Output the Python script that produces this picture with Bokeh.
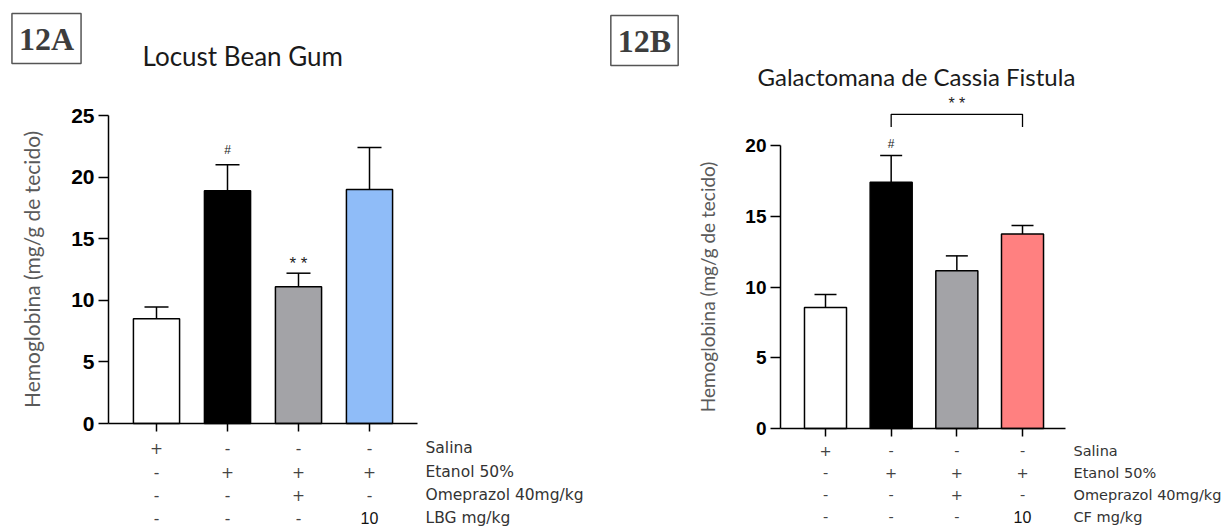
from bokeh.plotting import figure
from bokeh.models import Range1d, FixedTicker, Whisker, TeeHead, Label, ColumnDataSource
from bokeh.layouts import row
from bokeh.embed import file_html
from bokeh.resources import INLINE
from bokeh.core.properties import value

# ---------------- data ----------------
groups = [1, 2, 3, 4]

hb_a = [8.5, 18.9, 11.1, 19.0]
sem_a = [0.95, 2.1, 1.1, 3.4]
colors_a = ["#ffffff", "#000000", "#a3a3a7", "#8fbcf8"]

hb_b = [8.55, 17.4, 11.15, 13.75]
sem_b = [0.92, 1.9, 1.05, 0.6]
colors_b = ["#ffffff", "#000000", "#a3a3a7", "#ff8080"]

salina = ["+", "-", "-", "-"]
etanol = ["-", "+", "+", "+"]
omeprazol = ["-", "-", "+", "-"]
dose = ["-", "-", "-", "10"]
row_names_a = ["Salina", "Etanol 50%", "Omeprazol 40mg/kg", "LBG  mg/kg"]
row_names_b = ["Salina", "Etanol 50%", "Omeprazol 40mg/kg", "CF mg/kg"]

yticks_a = [0, 5, 10, 15, 20, 25]
yticks_b = [0, 5, 10, 15, 20]

y_label = "Hemoglobina (mg/g de tecido)"

# significance marks (group, value)
hash_a = (2, 22.2)
stars_a = (3, 13.0)
hash_b = (2, 20.1)
bracket_b = ([2, 2, 4, 4], [21.3, 22.2, 22.2, 21.3])
stars_b = (3, 23.0)

# ---------------- layout ----------------
H = 528
TOP = 0


def make_panel(cfg, vals, sems, colors, yticks, row_names, tag, title, title_size,
               label_size, tick_size, label_standoff):
    first, step, zero, ppu = cfg["first"], cfg["step"], cfg["zero"], cfg["ppu"]
    X = lambda px: 1 + (px - first) / step
    Y = lambda py: (zero - py) / ppu
    left = cfg["left"]
    w = cfg["width"]
    p = figure(width=w, height=H,
               x_range=Range1d(X(left), X(left + w)),
               y_range=Range1d(Y(TOP + H), Y(TOP)),
               output_backend="svg", toolbar_location=None, min_border=0)
    p.outline_line_color = None
    p.grid.visible = False
    p.background_fill_color = "white"
    p.border_fill_color = "white"

    src = ColumnDataSource(dict(x=groups, top=vals, color=colors,
                                upper=[v + s for v, s in zip(vals, sems)]))
    p.vbar(x="x", top="top", bottom=0, width=cfg["barw"], fill_color="color",
           line_color="black", line_width=1.5, source=src)
    wk = Whisker(base="x", upper="upper", lower="top", source=src,
                 upper_head=TeeHead(size=cfg["cap"], line_width=1.5, line_color="black"),
                 lower_head=None, line_width=1.5, line_color="black", level="glyph")
    p.add_layout(wk)

    ya = p.yaxis[0]
    ya.fixed_location = X(cfg["axis"])
    ya.bounds = (yticks[0], yticks[-1])
    ya.ticker = FixedTicker(ticks=yticks)
    ya.axis_line_width = 1.5
    ya.major_tick_line_width = 1.5
    ya.major_tick_out = 10
    ya.major_tick_in = 0
    ya.minor_tick_out = 0
    ya.minor_tick_in = 0
    ya.major_label_text_font = "Liberation Sans"
    ya.major_label_text_font_style = "bold"
    ya.major_label_text_font_size = tick_size
    ya.major_label_text_color = "black"
    ya.major_label_standoff = 4
    ya.axis_label = y_label
    ya.axis_label_text_font = "Lato"
    ya.axis_label_text_font_style = "normal"
    ya.axis_label_text_font_size = label_size
    ya.axis_label_text_color = "#5a5a5a"
    ya.axis_label_standoff = label_standoff

    xa = p.xaxis[0]
    xa.fixed_location = 0
    xa.bounds = (X(cfg["axis"]), X(cfg["right"]))
    xa.ticker = FixedTicker(ticks=groups)
    xa.axis_line_width = 1.5
    xa.major_tick_line_width = 1.5
    xa.major_tick_out = 8
    xa.major_tick_in = 0
    xa.minor_tick_out = 0
    xa.minor_tick_in = 0
    xa.major_label_overrides = {g: "" for g in groups}

    # treatment table
    rows_sym = [salina, etanol, omeprazol, dose]
    for r, (syms, py) in enumerate(zip(rows_sym, cfg["rows"])):
        plain_x = [g for g, s in zip(groups, syms) if s in ("+", "-")]
        plain_t = [s for s in syms if s in ("+", "-")]
        p.text(x=plain_x, y=[Y(py)] * len(plain_x), text=plain_t,
               text_font=value("DejaVu Sans"),
               text_font_size=cfg["tab_size"], text_color="#444444",
               text_align="center", text_baseline="middle")
        dose_x = [g for g, s in zip(groups, syms) if s not in ("+", "-")]
        if dose_x:
            p.text(x=dose_x, y=[Y(py)] * len(dose_x),
                   text=[s for s in syms if s not in ("+", "-")],
                   text_font=value("Liberation Sans"), text_font_size="16px",
                   text_color="#111111", text_align="center", text_baseline="middle")
        p.text(x=[X(cfg["tab_x"])], y=[Y(py)], text=[row_names[r]],
               text_font=value("DejaVu Sans"), text_font_size=cfg["tab_size"],
               text_color="#333333", text_align="left", text_baseline="middle")

    # header
    p.add_layout(Label(x=X(cfg["tag_xy"][0]), y=Y(cfg["tag_xy"][1]), text=tag,
                       text_font="Liberation Serif", text_font_style="bold",
                       text_font_size="32px", text_color="#3d3d3d",
                       text_align="center", text_baseline="middle",
                       border_line_color="#555555", border_line_width=1.5,
                       padding=7))
    p.add_layout(Label(x=X(cfg["title_xy"][0]), y=Y(cfg["title_xy"][1]), text=title,
                       text_font="Lato", text_font_size=title_size, text_color="#1a1a1a",
                       text_align="left", text_baseline="middle"))
    return p


cfg_a = dict(width=600, left=0, axis=108, first=156, step=71, zero=423, ppu=12.32,
             right=417, barw=0.65, cap=24, rows=[447, 471, 494, 517], tab_x=425,
             tab_size="15.5px", tag_xy=(46, 38), title_xy=(142, 55))
cfg_b = dict(width=629, left=600, axis=780, first=825, step=65.67, zero=428, ppu=14.15,
             right=1065, barw=0.64, cap=22, rows=[450, 472, 494, 516], tab_x=1073,
             tab_size="14.5px", tag_xy=(644, 40), title_xy=(757, 76))

pa = make_panel(cfg_a, hb_a, sem_a, colors_a, yticks_a, row_names_a, "12A",
                "Locust Bean Gum", "26px", "21px", "21px", 24)
pb = make_panel(cfg_b, hb_b, sem_b, colors_b, yticks_b, row_names_b, "12B",
                "Galactomana de Cassia Fistula", "24px", "19px", "19px", 23)

# significance marks
pa.text(x=[hash_a[0]], y=[hash_a[1]], text=["#"], text_font=value("Liberation Sans"),
        text_font_size="12px", text_color="#222222", text_align="center", text_baseline="middle")
pa.text(x=[stars_a[0]], y=[stars_a[1]], text=["* *"], text_font=value("Liberation Sans"),
        text_font_size="17px", text_color="#222222", text_align="center", text_baseline="middle")
pb.text(x=[hash_b[0]], y=[hash_b[1]], text=["#"], text_font=value("Liberation Sans"),
        text_font_size="12px", text_color="#222222", text_align="center", text_baseline="middle")
pb.line(x=bracket_b[0], y=bracket_b[1], line_color="black", line_width=1.3)
pb.text(x=[stars_b[0]], y=[stars_b[1]], text=["* *"], text_font=value("Liberation Sans"),
        text_font_size="16px", text_color="#222222", text_align="center", text_baseline="middle")

layout = row(pa, pb)
open("out.html", "w").write(file_html(layout, INLINE))
